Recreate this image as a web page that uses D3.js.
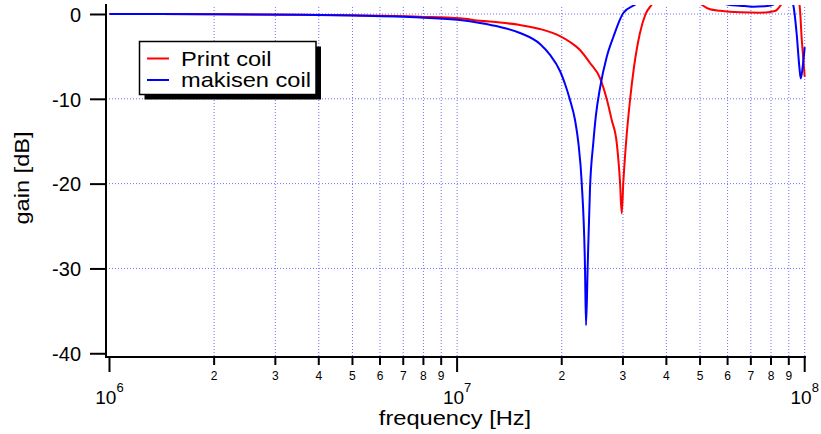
<!DOCTYPE html>
<html><head><meta charset="utf-8">
<script src="https://cdn.jsdelivr.net/npm/d3@7"></script>
<style>
body{margin:0;background:#fff}
svg{display:block}
text{font-family:Arial,"Liberation Sans",Helvetica,sans-serif;fill:#000}
</style>
</head><body>
<svg id="c" width="821" height="434"></svg>
<script>
// ---- data (frequency in Hz, gain in dB) ----
const printFreq = [1e6, 2e6, 3.5e6, 5e6, 7.82e6, 1.019e7, 1.164e7, 1.329e7, 1.517e7, 1.732e7, 1.977e7, 2.113e7, 2.257e7, 2.412e7, 2.577e7, 2.699e7, 2.785e7, 2.879e7, 2.943e7, 2.976e7, 3.007e7, 3.062e7, 3.144e7, 3.228e7, 3.358e7, 3.487e7, 3.63e7, 4.2e7, 4.7e7, 5.07e7, 5.34e7, 5.71e7, 6.51e7, 7.43e7, 8.21e7, 8.55e7, 9.0e7, 9.66e7, 9.81e7, 1e8];
const printGain = [0, -0.02, -0.08, -0.15, -0.32, -0.51, -0.79, -1.0, -1.3, -1.77, -2.6, -3.3, -4.25, -5.78, -7.55, -10.14, -12.5, -15.2, -19.9, -23.5, -19.9, -15.2, -10.14, -6.25, -2.24, 0, 1.1, 4, 2.5, 1.06, 0.55, 0.38, 0.2, 0.15, 0.35, 1.1, 3, 1.06, -3.1, -7.4];
const makisenFreq = [1e6, 2e6, 3.5e6, 5e6, 7.82e6, 1.019e7, 1.164e7, 1.329e7, 1.517e7, 1.732e7, 1.851e7, 1.977e7, 2.044e7, 2.113e7, 2.184e7, 2.233e7, 2.283e7, 2.333e7, 2.349e7, 2.375e7, 2.412e7, 2.465e7, 2.509e7, 2.577e7, 2.694e7, 2.815e7, 3.007e7, 3.25e7, 4.0e7, 5.0e7, 5.8e7, 6.1e7, 6.5e7, 7.1e7, 7.8e7, 8.12e7, 8.8e7, 9.27e7, 9.48e7, 9.65e7, 9.74e7, 9.87e7, 1e8];
const makisenGain = [0, -0.02, -0.08, -0.18, -0.41, -0.71, -1.06, -1.53, -2.24, -3.54, -4.83, -6.72, -8.25, -10.14, -12.5, -15.2, -19.9, -29.8, -36.7, -29.8, -20.5, -15.2, -11.9, -8.73, -5.07, -2.71, 0.12, 1.1, 4, 5, 1.3, 1.06, 0.98, 0.86, 0.93, 1.1, 3, 1.06, -2.3, -6.2, -7.6, -6.2, -3.9];
const seriesNames = ["Print coil", "makisen coil"];
const seriesColors = ["#ff0000", "#0000ff"];
const yTicks = [0, -10, -20, -30, -40];
const yGrid = [0, -10, -20, -30];
const xMajor = [1e6, 1e7, 1e8];
const xMajorExp = ["6", "7", "8"];
const xMinorDigits = [2, 3, 4, 5, 6, 7, 8, 9];

// ---- layout ----
const L = 106, R = 805, T = 5, B = 357;
const STRETCH = 1.125;
const svg = d3.select("#c");
const x = d3.scaleLog().domain([0.9771e6, 1e8]).range([L, 804.7]);
const y = d3.scaleLinear().domain([-40.44, 1.06]).range([B, T]);

function widen(sel) {
  sel.each(function () {
    const w = this.getComputedTextLength();
    d3.select(this).attr("textLength", w * STRETCH).attr("lengthAdjust", "spacingAndGlyphs");
  });
  return sel;
}

const minorTicks = [];
[1e6, 1e7].forEach(d => xMinorDigits.forEach(m => minorTicks.push(d * m)));

// grid
const grid = svg.append("g").attr("stroke", "#6f6fff").attr("stroke-width", 1).attr("stroke-dasharray", "1,2");
grid.selectAll("line.v").data(minorTicks.concat([1e7, 1e8])).join("line")
  .attr("x1", d => x(d)).attr("x2", d => x(d)).attr("y1", T + 2).attr("y2", B);
grid.selectAll("line.h").data(yGrid).join("line")
  .attr("x1", L).attr("x2", R).attr("y1", d => y(d)).attr("y2", d => y(d));

// curves
svg.append("clipPath").attr("id", "clip").append("rect")
  .attr("x", L).attr("y", T).attr("width", R - L + 1).attr("height", B - T);
const line = d3.line().x(d => x(d[0])).y(d => y(d[1])).curve(d3.curveMonotoneX);
const series = [
  d3.zip(printFreq, printGain),
  d3.zip(makisenFreq, makisenGain)
];
svg.append("g").attr("clip-path", "url(#clip)").selectAll("path").data(series).join("path")
  .attr("d", line).attr("fill", "none")
  .attr("stroke", (d, i) => seriesColors[i]).attr("stroke-width", 2)
  .attr("stroke-linejoin", "round");

// y axis
const yAx = svg.append("g").attr("transform", `translate(${L},0)`)
  .call(d3.axisLeft(y).tickValues(yTicks).tickSize(16).tickPadding(9).tickFormat(d => String(d)));
yAx.select(".domain").remove();
yAx.selectAll(".tick line").attr("stroke", "#000").attr("stroke-width", 2);
yAx.selectAll(".tick text").attr("font-size", 20).attr("font-family", "Arial, 'Liberation Sans', sans-serif").attr("dy", "0.36em");
svg.append("line").attr("x1", L).attr("x2", L).attr("y1", 4).attr("y2", B + 1)
  .attr("stroke", "#000").attr("stroke-width", 2);

// x axis
svg.append("line").attr("x1", L).attr("x2", R + 1).attr("y1", B).attr("y2", B)
  .attr("stroke", "#000").attr("stroke-width", 2);
const xAx = svg.append("g").attr("transform", `translate(0,${B})`);
xAx.selectAll("line.mi").data(minorTicks).join("line")
  .attr("x1", d => x(d)).attr("x2", d => x(d)).attr("y1", 0).attr("y2", 8)
  .attr("stroke", "#000").attr("stroke-width", 2);
xAx.selectAll("line.ma").data(xMajor).join("line")
  .attr("x1", d => x(d)).attr("x2", d => x(d)).attr("y1", 0).attr("y2", 15)
  .attr("stroke", "#000").attr("stroke-width", 2);
xAx.selectAll("text.mi").data(minorTicks).join("text")
  .attr("x", d => x(d)).attr("y", 23).attr("text-anchor", "middle").attr("font-size", 12)
  .text(d => Math.round(d / Math.pow(10, Math.floor(Math.log10(d) + 1e-9))));
const maj = xAx.selectAll("text.ma").data(xMajor).join("text")
  .attr("x", d => x(d)).attr("y", 47).attr("text-anchor", "middle");
maj.append("tspan").attr("font-size", 19).text("10");
maj.append("tspan").attr("font-size", 13).attr("dy", -12).text((d, i) => xMajorExp[i]);

// axis titles
widen(svg.append("text").attr("x", 455).attr("y", 425).attr("text-anchor", "middle")
  .attr("font-size", 21).text("frequency [Hz]"));
widen(svg.append("text").attr("transform", "translate(29,178) rotate(-90)").attr("text-anchor", "middle")
  .attr("font-size", 21).text("gain [dB]"));

// legend
const lg = svg.append("g");
lg.append("rect").attr("x", 144.5).attr("y", 46.5).attr("width", 176.5).attr("height", 53).attr("fill", "#000");
lg.append("rect").attr("x", 139.5).attr("y", 41.5).attr("width", 176.5).attr("height", 53)
  .attr("fill", "#fff").attr("stroke", "#000").attr("stroke-width", 1.5);
const rows = [58.5, 80];
seriesNames.forEach((n, i) => {
  lg.append("line").attr("x1", 147).attr("x2", 169).attr("y1", rows[i]).attr("y2", rows[i])
    .attr("stroke", seriesColors[i]).attr("stroke-width", 2);
  widen(lg.append("text").attr("x", 181).attr("y", rows[i] + 7).attr("font-size", 21).text(n));
});
</script>
</body></html>
